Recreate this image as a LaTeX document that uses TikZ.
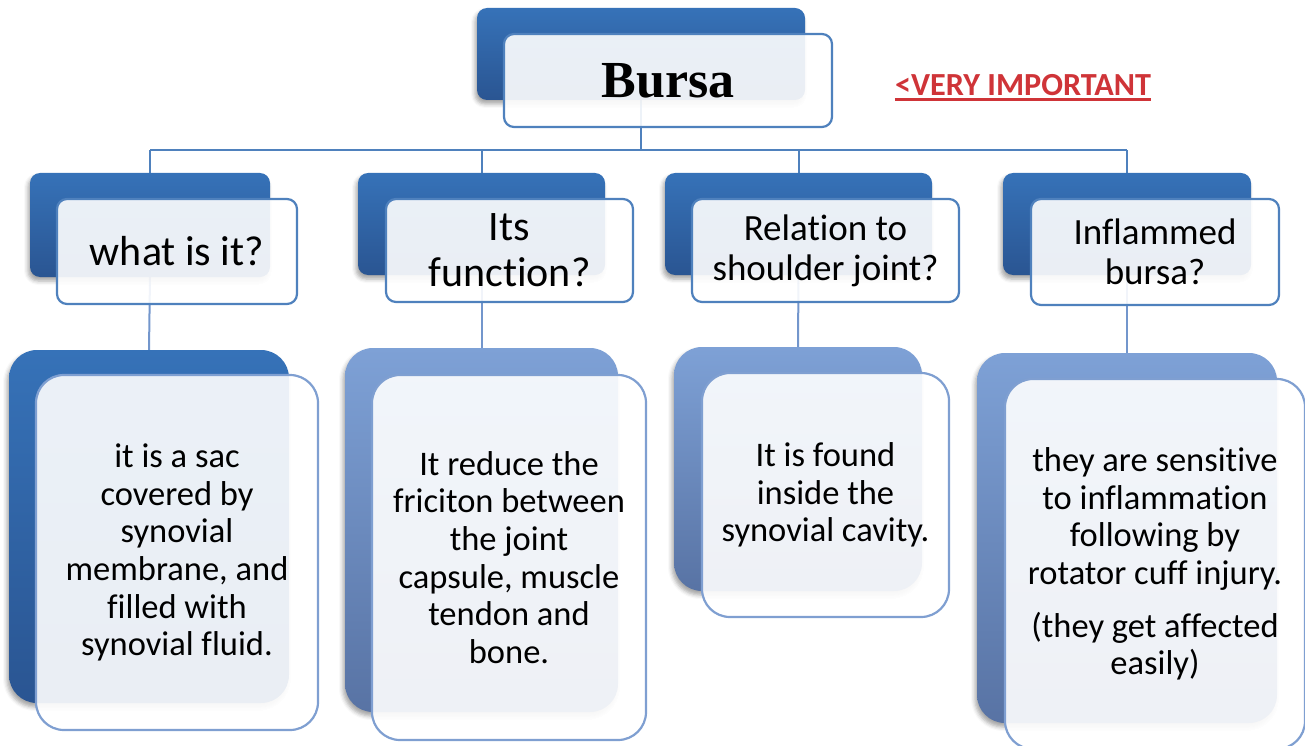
\documentclass[tikz,border=0pt]{standalone}
\usepackage{fontspec}
\setmainfont{Carlito}[Ligatures=NoCommon]
\newfontfamily\bursafont{Liberation Serif}
\usetikzlibrary{shadows.blur}
\pgfdeclarelayer{background}
\pgfsetlayers{background,main}
\definecolor{darkA}{HTML}{3672B8}
\definecolor{darkB}{HTML}{2A5592}
\definecolor{lightA}{HTML}{7EA1D6}
\definecolor{lightB}{HTML}{5873A4}
\definecolor{edgeD}{HTML}{4F81BD}
\definecolor{edgeL}{HTML}{7F9FD1}
\definecolor{connL}{HTML}{7396CC}
\definecolor{alert}{RGB}{207,52,56}
\begin{document}
\begin{tikzpicture}[x=1pt,y=-1pt,
  back/.style={anchor=north west, inner sep=0pt, outer sep=0pt,
    blur shadow={shadow xshift=-2pt, shadow yshift=-4pt, shadow blur radius=4pt, shadow opacity=35}},
  backdark/.style={back, top color=darkA, bottom color=darkB},
  backlight/.style={back, top color=lightA, bottom color=lightB},
  front/.style={anchor=north west, inner sep=0pt, outer sep=0pt, fill=white,
    fill opacity=0.9, text opacity=1, draw=#1, line width=2.2pt, align=center},
  conn/.style={draw=edgeD, line width=2pt},
  connb/.style={draw=connL, line width=2pt},
  lvtwo/.style={font=\fontsize{42}{46}\selectfont},
  lvtwos/.style={font=\fontsize{37}{40}\selectfont},
  lvthree/.style={font=\fontsize{34.5}{37.7}\selectfont},
]
\useasboundingbox (0,0) rectangle (1305,746);

% top
\node[backdark, minimum width=328, minimum height=92, rounded corners=10] (b0) at (477,8) {};
\node[front=edgeD, minimum width=328, minimum height=93, rounded corners=10,
  font=\bursafont\bfseries\fontsize{52}{60}\selectfont] (f0) at (504,34) {Bursa};

\node[text=alert, inner sep=0pt, font=\bfseries\fontsize{32.2}{36}\selectfont] (vi) at (1023,85) {<VERY IMPORTANT};
\draw[alert, line width=3pt] ([yshift=-4pt]vi.base west) -- ([yshift=-4pt]vi.base east);

% level 2
\node[backdark, minimum width=240, minimum height=104, rounded corners=10] (l1) at (30,173) {};
\node[backdark, minimum width=247, minimum height=102, rounded corners=10] (l2) at (358,173) {};
\node[backdark, minimum width=267, minimum height=102, rounded corners=10] (l3) at (665,173) {};
\node[backdark, minimum width=248, minimum height=102, rounded corners=10] (l4) at (1003,173) {};

\node[front=edgeD, minimum width=240, minimum height=105, rounded corners=10, lvtwo] (f1) at (57,199) {what is it?};
\node[front=edgeD, minimum width=247, minimum height=103, rounded corners=10, lvtwo] (f2) at (386,199) {Its\\function?};
\node[front=edgeD, minimum width=267, minimum height=103, rounded corners=10, lvtwos] (f3) at (692,199) {Relation to\\shoulder joint?};
\node[front=edgeD, minimum width=248, minimum height=106, rounded corners=10, lvtwos] (f4) at (1031,199) {Inflammed\\bursa?};

% level 3
\node[backdark, minimum width=280, minimum height=353, rounded corners=28] (m1) at (9,350) {};
\node[backlight, minimum width=273, minimum height=364, rounded corners=28] (m2) at (345,348) {};
\node[backlight, minimum width=248, minimum height=244, rounded corners=28] (m3) at (674,347) {};
\node[backlight, minimum width=300, minimum height=370, rounded corners=28] (m4) at (977,353) {};

\node[front=edgeL, minimum width=282, minimum height=355, rounded corners=28, lvthree] (g1) at (36,375)
  {it is a sac\\covered by\\synovial\\membrane, and\\filled with\\synovial fluid.};
\node[front=edgeL, minimum width=274, minimum height=365, rounded corners=28, lvthree] (g2) at (372,375)
  {It reduce the\\friciton between\\the joint\\capsule, muscle\\tendon and\\bone.};
\node[front=edgeL, minimum width=247, minimum height=244, rounded corners=28, lvthree] (g3) at (702,373)
  {It is found\\inside the\\synovial cavity.};
\node[front=edgeL, minimum width=300, minimum height=370, rounded corners=28, lvthree] (g4) at (1005,379)
  {they are sensitive\\to inflammation\\following by\\rotator cuff injury.\\[15pt](they get affected\\easily)};

% connectors
\coordinate (bus) at (0,150);
\begin{pgfonlayer}{background}
\draw[conn] (b0.south) -- (b0.south |- bus);
\draw[conn] (l1.north |- bus) -- (l4.north |- bus);
\foreach \n in {l1,l2,l3,l4} \draw[conn] (\n.north) -- (\n.north |- bus);
\draw[connb] (l1.south) -- (m1.north);
\draw[connb] (l2.south) -- (m2.north);
\draw[connb] (l3.south) -- (m3.north);
\draw[connb] (l4.south) -- (m4.north);
\end{pgfonlayer}
\end{tikzpicture}
\end{document}
